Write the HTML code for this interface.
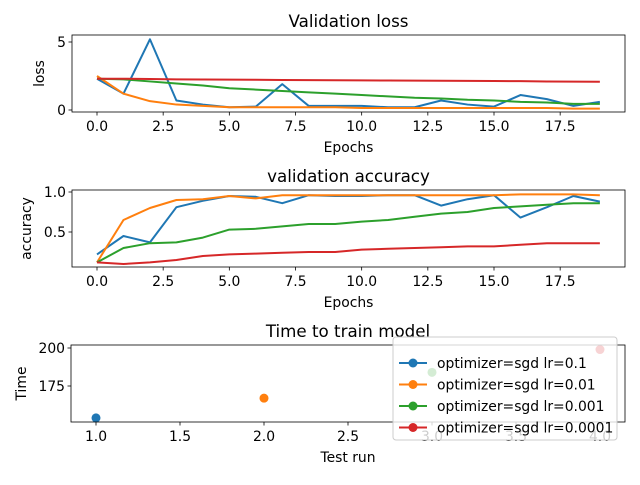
<!DOCTYPE html>
<html><head><meta charset="utf-8"><style>
body{margin:0;background:#fff;font-family:"Liberation Sans","DejaVu Sans",sans-serif;}
svg text{font-family:"DejaVu Sans","Liberation Sans",sans-serif;}
</style></head><body>
<svg id="c" width="640" height="480" xmlns="http://www.w3.org/2000/svg"></svg>
<script>
const epochs=[0,1,2,3,4,5,6,7,8,9,10,11,12,13,14,15,16,17,18,19];
const seriesNames=["optimizer=sgd lr=0.1","optimizer=sgd lr=0.01","optimizer=sgd lr=0.001","optimizer=sgd lr=0.0001"];
const colors=["#1f77b4","#ff7f0e","#2ca02c","#d62728"];
const lossLr01=[2.3,1.2,5.2,0.7,0.4,0.2,0.25,1.9,0.3,0.3,0.3,0.2,0.2,0.7,0.4,0.25,1.1,0.8,0.3,0.6];
const lossLr001=[2.5,1.2,0.65,0.4,0.3,0.2,0.2,0.2,0.2,0.2,0.15,0.15,0.15,0.15,0.15,0.15,0.15,0.15,0.1,0.1];
const lossLr0001=[2.3,2.25,2.1,1.95,1.8,1.6,1.5,1.4,1.3,1.2,1.1,1.0,0.9,0.85,0.75,0.7,0.6,0.55,0.45,0.45];
const lossLr00001=[2.3,2.3,2.28,2.25,2.24,2.23,2.22,2.21,2.2,2.19,2.18,2.17,2.16,2.15,2.14,2.13,2.12,2.1,2.09,2.08];
const accLr01=[.22,.45,.37,.81,.89,.95,.94,.86,.96,.95,.95,.96,.96,.83,.91,.96,.68,.81,.95,.88];
const accLr001=[.12,.65,.8,.9,.91,.95,.92,.96,.96,.96,.96,.96,.96,.96,.96,.96,.97,.97,.97,.96];
const accLr0001=[.12,.3,.36,.37,.43,.53,.54,.57,.6,.6,.63,.65,.69,.73,.75,.8,.82,.84,.86,.86];
const accLr00001=[.12,.1,.12,.15,.2,.22,.23,.24,.25,.25,.28,.29,.3,.31,.32,.32,.34,.36,.36,.36];
const testRuns=[1,2,3,4];
const trainTimes=[154,167,184,199];
const epochTicks=[0,2.5,5,7.5,10,12.5,15,17.5];
const epochTickLabels=["0.0","2.5","5.0","7.5","10.0","12.5","15.0","17.5"];
const lossTicks=[0,5];
const lossTickLabels=["0","5"];
const accTicks=[0.5,1.0];
const accTickLabels=["0.5","1.0"];
const runTicks=[1,1.5,2,2.5,3,3.5,4];
const runTickLabels=["1.0","1.5","2.0","2.5","3.0","3.5","4.0"];
const timeTicks=[175,200];
const timeTickLabels=["175","200"];

const svg=document.getElementById('c');
const NS="http://www.w3.org/2000/svg";
function el(tag,attrs,parent){const e=document.createElementNS(NS,tag);for(const k in attrs)e.setAttribute(k,attrs[k]);(parent||svg).appendChild(e);return e;}
function txt(s,x,y,size,anchor,parent,rot){const t=el('text',{x:x,y:y,'font-size':size,'text-anchor':anchor||'middle',fill:'#000'},parent);if(rot)t.setAttribute('transform',`rotate(-90 ${x} ${y})`);t.textContent=s;return t;}

function lin(v0,p0,v1,p1){return v=>p0+(v-v0)*(p1-p0)/(v1-v0);}

function panel(name,box,sx,sy,xt,xtl,yt,ytl,title,xlabel,ylabel,ylx){
  const g=el('g',{});
  
  
  const clipId=name+'-clip';
  const cp=el('clipPath',{id:clipId},g);
  el('rect',{x:box.x0,y:box.y0,width:box.x1-box.x0,height:box.y1-box.y0},cp);
  const inner=el('g',{'clip-path':`url(#${clipId})`},g);
  xt.forEach((v,i)=>{const X=sx(v);el('line',{x1:X,x2:X,y1:box.y1,y2:box.y1+3.5,stroke:'#000','stroke-width':0.8},g);
    const t=txt(xtl[i],X,box.y1+19,13.9,'middle',g);});
  yt.forEach((v,i)=>{const Y=sy(v);el('line',{x1:box.x0-3.5,x2:box.x0,y1:Y,y2:Y,stroke:'#000','stroke-width':0.8},g);
    const t=txt(ytl[i],box.x0-6,Y+5,13.9,'end',g);});
  const tt=txt(title,(box.x0+box.x1)/2,box.y0-8,16.7,'middle',g);
  
  const xl=txt(xlabel,(box.x0+box.x1)/2,box.y1+40,13.9,'middle',g);
  
  const yl=txt(ylabel,ylx,(box.y0+box.y1)/2,13.9,'middle',g,true);
  
  return {g,inner,sx,sy,box};
}
function frame(p){el('rect',{x:p.box.x0,y:p.box.y0,width:p.box.x1-p.box.x0,height:p.box.y1-p.box.y0,fill:'none',stroke:'#000','stroke-width':0.8},p.g);}
function line(p,xs,ys,color,name){const l=el('polyline',{points:xs.map((x,i)=>p.sx(x)+','+p.sy(ys[i])).join(' '),fill:'none',stroke:color,'stroke-width':2,'stroke-linejoin':'round'},p.inner);
  }

const ex=lin(0,97,15,494);
const p1=panel('loss-panel',{x0:72,x1:625,y0:35,y1:112},ex,lin(0,110,5,42),epochTicks,epochTickLabels,lossTicks,lossTickLabels,"Validation loss","Epochs","loss",44);
[lossLr01,lossLr001,lossLr0001,lossLr00001].forEach((s,i)=>line(p1,epochs,s,colors[i],'loss-line-'+i));
frame(p1);
const p2=panel('accuracy-panel',{x0:72,x1:625,y0:190,y1:267},ex,lin(0.5,232,1.0,192),epochTicks,epochTickLabels,accTicks,accTickLabels,"validation accuracy","Epochs","accuracy",31);
[accLr01,accLr001,accLr0001,accLr00001].forEach((s,i)=>line(p2,epochs,s,colors[i],'accuracy-line-'+i));
frame(p2);
const p3=panel('time-panel',{x0:71,x1:625,y0:345,y1:422},lin(1,96,4,600),lin(175,386,200,348),runTicks,runTickLabels,timeTicks,timeTickLabels,"Time to train model","Test run","Time",26);
testRuns.forEach((r,i)=>{const c=el('circle',{cx:p3.sx(r),cy:p3.sy(trainTimes[i]),r:4.5,fill:colors[i]},p3.g);
  });
frame(p3);
const lg=el('g',{});


el('rect',{x:393,y:337,width:224,height:103,rx:3,fill:'#fff','fill-opacity':0.8,stroke:'#ccc','stroke-width':1},lg);
seriesNames.forEach((n,i)=>{const y=363+i*21.5;
  const e=el('g',{},lg);
  
  
  el('line',{x1:399,x2:427,y1:y,y2:y,stroke:colors[i],'stroke-width':2},e);
  el('circle',{cx:413,cy:y,r:4.5,fill:colors[i]},e);
  txt(n,437,y+5,13.9,'start',e);});
</script>
</body></html>
